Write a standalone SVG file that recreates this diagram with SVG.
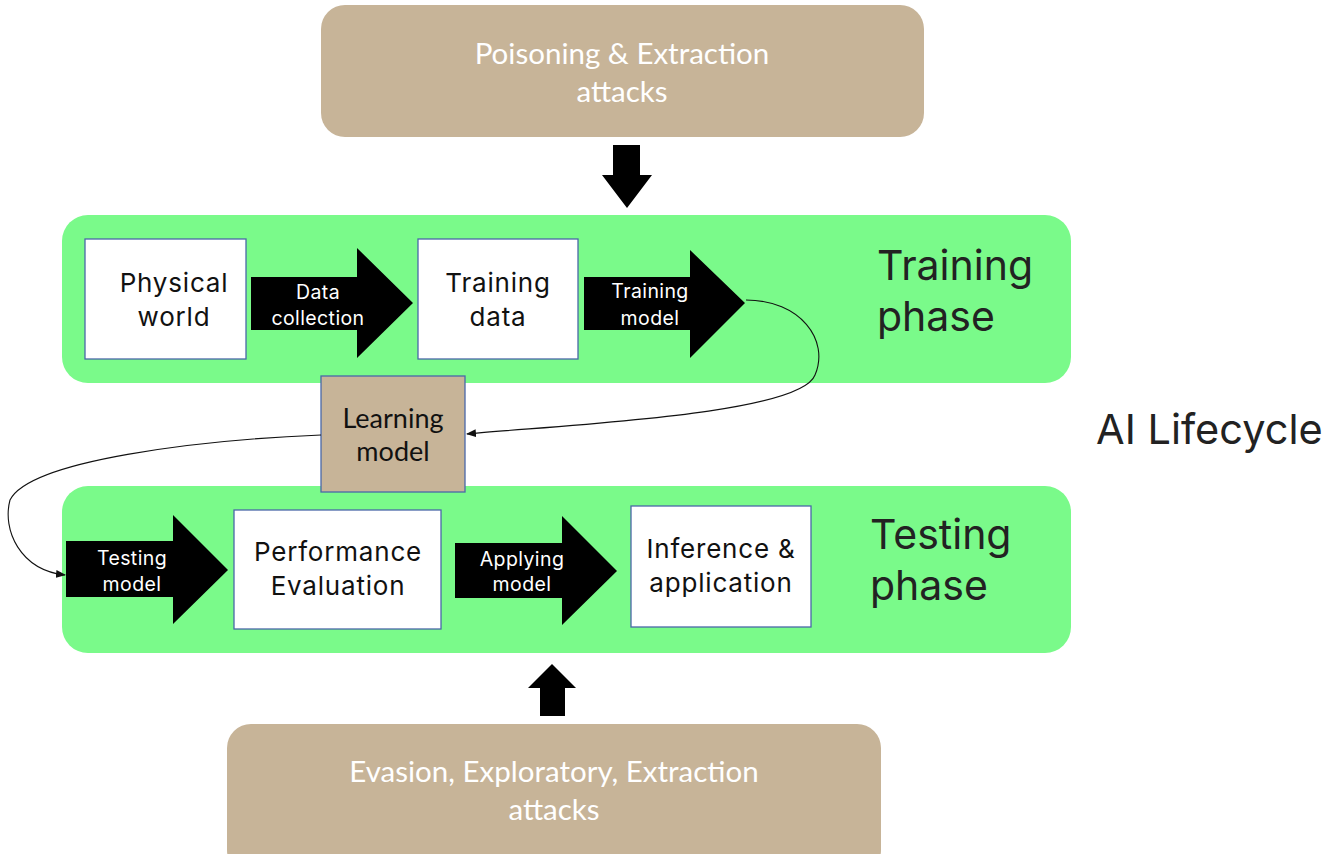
<svg xmlns="http://www.w3.org/2000/svg" width="1337" height="854" viewBox="0 0 1337 854">
<style>
.phase{fill:#7afa8a}
.attack{fill:#c7b498}
.node{fill:#ffffff;stroke:#4a68a8;stroke-width:1.3}
.lm{fill:#c7b498;stroke:#4a68a8;stroke-width:1.3}
.atxt{font-family:Lato,"Open Sans",sans-serif;font-size:29.5px;fill:#ffffff;text-anchor:middle}
.ntxt{font-family:Inter,"Liberation Sans",sans-serif;font-size:26px;letter-spacing:0.8px;fill:#111;text-anchor:middle}
.lmtxt{font-family:Lato,"Open Sans",sans-serif;font-size:27px;fill:#111;text-anchor:middle}
.btxt{font-family:Inter,"Liberation Sans",sans-serif;font-size:19.5px;letter-spacing:0.4px;fill:#fff;text-anchor:middle}
.ptxt{font-family:Inter,"Liberation Sans",sans-serif;font-size:41px;fill:#222}
.curve{fill:none;stroke:#111;stroke-width:1.1}
</style>
<defs>
<marker id="ah" markerWidth="10" markerHeight="8" refX="9" refY="4" orient="auto" markerUnits="userSpaceOnUse">
<path d="M0,0 L10,4 L0,8 Z" fill="#111"/>
</marker>
</defs>
<rect width="1337" height="854" fill="#fff"/>

<g id="training-phase">
<rect class="phase" x="62" y="215" width="1009" height="168" rx="26"/>
<text class="ptxt" x="877" y="280">Training</text>
<text class="ptxt" x="877" y="331">phase</text>
</g>
<g id="testing-phase">
<rect class="phase" x="62" y="486" width="1009" height="167" rx="26"/>
<text class="ptxt" x="870" y="549">Testing</text>
<text class="ptxt" x="870" y="600">phase</text>
</g>

<g id="poisoning-attacks">
<rect class="attack" x="321" y="5" width="603" height="132" rx="24"/>
<text class="atxt" x="622" y="64">Poisoning &amp; Extraction</text>
<text class="atxt" x="622" y="102">attacks</text>
</g>
<g id="evasion-attacks">
<rect class="attack" x="227" y="724" width="654" height="150" rx="24"/>
<text class="atxt" x="554" y="782">Evasion, Exploratory, Extraction</text>
<text class="atxt" x="554" y="820">attacks</text>
</g>

<g id="physical-world">
<rect class="node" x="85" y="239" width="161" height="120"/>
<text class="ntxt" x="174" y="292">Physical</text>
<text class="ntxt" x="174" y="326">world</text>
</g>
<g id="training-data">
<rect class="node" x="418" y="239" width="160" height="120"/>
<text class="ntxt" x="498" y="292">Training</text>
<text class="ntxt" x="498" y="326">data</text>
</g>
<g id="learning-model">
<rect class="lm" x="321" y="376" width="144" height="116"/>
<text class="lmtxt" x="393" y="428">Learning</text>
<text class="lmtxt" x="393" y="461">model</text>
</g>
<g id="performance-evaluation">
<rect class="node" x="234" y="510" width="207" height="119"/>
<text class="ntxt" x="338" y="561">Performance</text>
<text class="ntxt" x="338" y="595">Evaluation</text>
</g>
<g id="inference-application">
<rect class="node" x="631" y="506" width="180" height="121"/>
<text class="ntxt" x="721" y="558">Inference &amp;</text>
<text class="ntxt" x="721" y="592">application</text>
</g>

<g id="connectors">
<path d="M613,145 H640 V175 H652 L627,208 L602,175 H613 Z" fill="#000"/>
<path d="M540,716 H565 V688 H576 L552,664 L528,688 H540 Z" fill="#000"/>

<path d="M251,277 H357 V248 L413,303 L357,358 V330 H251 Z" fill="#000"/>
<text class="btxt" x="318" y="299">Data</text>
<text class="btxt" x="318" y="325">collection</text>

<path d="M584,277 H690 V250 L745,303 L690,358 V330 H584 Z" fill="#000"/>
<text class="btxt" x="650" y="298">Training</text>
<text class="btxt" x="650" y="325">model</text>

<path d="M66,541 H173 V515 L228,570 L173,624 V597 H66 Z" fill="#000"/>
<text class="btxt" x="132" y="565">Testing</text>
<text class="btxt" x="132" y="591">model</text>

<path d="M455,543 H562 V516 L617,571 L562,625 V598 H455 Z" fill="#000"/>
<text class="btxt" x="522" y="566">Applying</text>
<text class="btxt" x="522" y="591">model</text>

<path class="curve" d="M746,300 C800,300 830,340 815,375 C800,415 560,425 467,434" marker-end="url(#ah)"/>
<path class="curve" d="M321,435 C200,440 30,460 10,500 C2,530 20,570 65,575" marker-end="url(#ah)"/>
</g>

<text x="1096" y="444" font-family="Inter,'Liberation Sans',sans-serif" font-size="41.5" fill="#222">AI Lifecycle</text>
</svg>
